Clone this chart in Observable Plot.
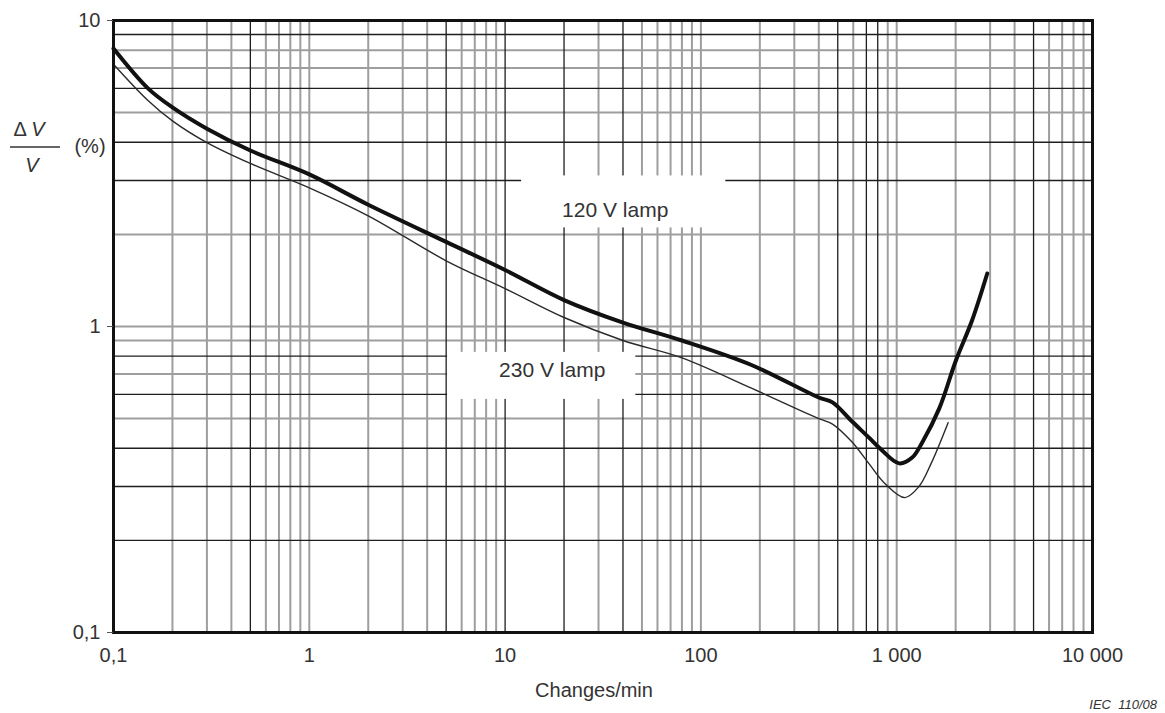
<!DOCTYPE html>
<html>
<head>
<meta charset="utf-8">
<script src="https://cdn.jsdelivr.net/npm/d3@7"></script>
<script src="https://cdn.jsdelivr.net/npm/@observablehq/plot@0.6"></script>
<style>
  html, body { margin: 0; padding: 0; background: #fff; }
</style>
</head>
<body>
<script>
// ---- data ----
const xTickValues = [0.1, 1, 10, 100, 1000, 10000];
const xTickLabels = ["0,1", "1", "10", "100", "1 000", "10 000"];
const yTickValues = [0.1, 1, 10];
const yTickLabels = ["0,1", "1", "10"];

// 120 V lamp (thick curve)
const changes120 = [0.1, 0.15, 0.2, 0.3, 0.5, 1, 2, 5, 10, 20, 40, 80, 180, 400, 470, 590, 720, 820, 1030, 1200, 1350, 1650, 2000, 2430, 2900];
const dv120      = [8.1, 6.0, 5.2, 4.43, 3.76, 3.14, 2.5, 1.89, 1.53, 1.22, 1.03, 0.90, 0.75, 0.586, 0.565, 0.49, 0.434, 0.40, 0.357, 0.373, 0.418, 0.54, 0.77, 1.05, 1.49];

// 230 V lamp (thin curve)
const changes230 = [0.1, 0.15, 0.2, 0.3, 0.5, 1, 2, 5, 10, 20, 40, 80, 180, 400, 470, 590, 720, 870, 1100, 1300, 1500, 1830];
const dv230      = [7.2, 5.48, 4.7, 3.99, 3.41, 2.84, 2.3, 1.64, 1.33, 1.07, 0.90, 0.79, 0.63, 0.50, 0.48, 0.42, 0.357, 0.307, 0.276, 0.30, 0.357, 0.485];

const lampLabels = ["120 V lamp", "230 V lamp"];
const lampLabelX = [36.5, 17.4];
const lampLabelY = [2.39, 0.72];

// grid lines (log paper)
const gridDecadesX = [0.1, 1, 10, 100, 1000];
const gridDecadesY = [0.1, 1];
const gridMultipliers = [1, 2, 3, 4, 5, 6, 7, 8, 9];
const darkGridX = [0.5, 5, 10, 20, 40, 500, 700, 800, 5000];
const darkGridY = [0.2, 0.3, 0.4, 0.6, 0.8, 3, 4, 6, 9];

// ---- build ----
const round = v => +v.toPrecision(6);
const allGridX = gridDecadesX.flatMap(d => gridMultipliers.map(m => round(d * m))).filter(v => v > 0.1 && v < 10000);
const allGridY = gridDecadesY.flatMap(d => gridMultipliers.map(m => round(d * m))).filter(v => v > 0.1 && v < 10);
const grayGridX = allGridX.filter(v => !darkGridX.includes(v));
const grayGridY = allGridY.filter(v => !darkGridY.includes(v));

const series120 = changes120.map((c, i) => ({c, v: dv120[i]}));
const series230 = changes230.map((c, i) => ({c, v: dv230[i]}));
const labels = lampLabels.map((t, i) => ({t, x: lampLabelX[i], y: lampLabelY[i]}));

const textColor = "#333";
const font = "'Liberation Sans', Arial, sans-serif";

const chart = Plot.plot({
  width: 1165,
  height: 713,
  marginLeft: 113,
  marginRight: 73,
  marginTop: 20,
  marginBottom: 81,
  style: {fontFamily: font, color: textColor, background: "#fff"},
  x: {type: "log", domain: [0.1, 10000]},
  y: {type: "log", domain: [0.1, 10]},
  marks: [
    Plot.ruleX(grayGridX, {stroke: "#9e9e9e", strokeWidth: 2}),
    Plot.ruleY(grayGridY, {stroke: "#9e9e9e", strokeWidth: 2}),
    Plot.ruleX(darkGridX, {stroke: "#1e1e1e", strokeWidth: 1.3}),
    Plot.ruleY(darkGridY, {stroke: "#1e1e1e", strokeWidth: 1.3}),
    Plot.line(series230, {x: "c", y: "v", curve: "catmull-rom", stroke: "#2a2a2a", strokeWidth: 1.4}),
    Plot.line(series120, {x: "c", y: "v", curve: "catmull-rom", stroke: "#111", strokeWidth: 4}),
    Plot.frame({stroke: "#111", strokeWidth: 3}),
    Plot.axisX(xTickValues, {
      tickFormat: d => xTickLabels[xTickValues.indexOf(d)],
      tickSize: 0, tickPadding: 15, fontSize: 20, label: null, fill: textColor
    }),
    Plot.axisY(yTickValues, {
      tickFormat: d => yTickLabels[yTickValues.indexOf(d)],
      tickSize: 6, tickPadding: 7, fontSize: 20, label: null, fill: textColor, stroke: "#555"
    }),
    Plot.text(labels, {x: "x", y: "y", text: "t", fontSize: 21, fill: textColor})
  ]
});

document.body.append(chart);

// white boxes behind the curve labels (as on the original chart)
const boxPad = {
  "120 V lamp": {l: 41, r: 57, t: 23, b: 6},
  "230 V lamp": {l: 52, r: 30, t: 6, b: 18}
};
const svg = d3.select(chart);
svg.selectAll("text")
  .filter(function() { return lampLabels.includes(this.textContent); })
  .each(function() {
    const bb = this.getBBox();
    const p = boxPad[this.textContent];
    const rect = document.createElementNS("http://www.w3.org/2000/svg", "rect");
    rect.setAttribute("x", bb.x - p.l);
    rect.setAttribute("y", bb.y - p.t);
    rect.setAttribute("width", bb.width + p.l + p.r);
    rect.setAttribute("height", bb.height + p.t + p.b);
    rect.setAttribute("fill", "#fff");
    rect.setAttribute("stroke", "none");
    const tr = this.getAttribute("transform");
    if (tr) rect.setAttribute("transform", tr);
    this.parentNode.insertBefore(rect, this);
  });

// y-axis title: ΔV / V (%)
const yl = svg.append("g").attr("fill", textColor).style("font-family", font).style("font-size", "20px");
const dv = yl.append("text").attr("x", 29).attr("y", 136).attr("text-anchor", "middle");
dv.append("tspan").text("Δ ");
dv.append("tspan").attr("font-style", "italic").text("V");
yl.append("line").attr("x1", 10).attr("x2", 60).attr("y1", 147).attr("y2", 147).attr("stroke", textColor).attr("stroke-width", 1.3);
yl.append("text").attr("x", 32).attr("y", 172).attr("text-anchor", "middle").attr("font-style", "italic").text("V");
yl.append("text").attr("x", 90).attr("y", 153).attr("text-anchor", "middle").text("(%)");

// x-axis title
svg.append("text").attr("x", 594).attr("y", 697).attr("text-anchor", "middle")
  .attr("fill", textColor).style("font-family", font).style("font-size", "20px").text("Changes/min");

// source reference
svg.append("text").attr("x", 1157).attr("y", 709).attr("text-anchor", "end")
  .attr("fill", textColor).attr("font-style", "italic").style("font-family", font).style("font-size", "13px")
  .style("white-space", "pre").attr("xml:space", "preserve").text("IEC  110/08");
</script>
</body>
</html>
